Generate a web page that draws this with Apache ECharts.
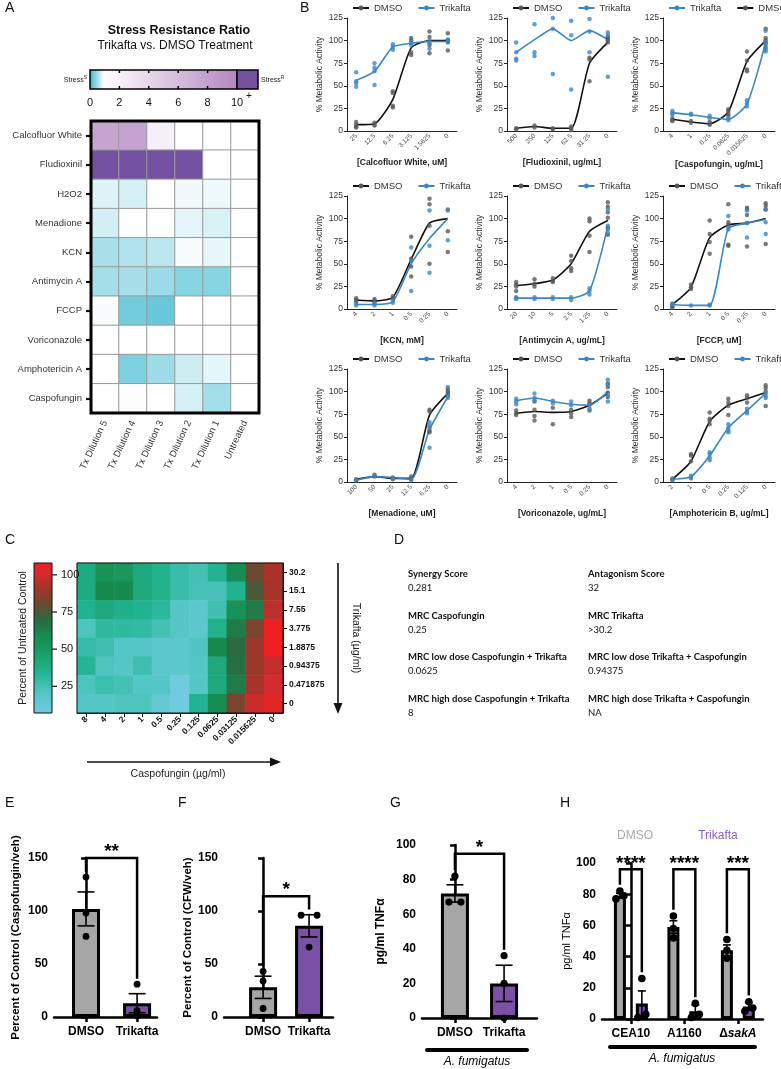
<!DOCTYPE html>
<html><head><meta charset="utf-8">
<script src="https://cdn.jsdelivr.net/npm/echarts@6/dist/echarts.min.js"></script>
<style>html,body{margin:0;padding:0;background:#fff}#c{width:781px;height:1069px}</style>
</head><body><div id="c"></div>
<script>
// ---------------- DATA ----------------
// Panel A
const stressRows = ['Calcofluor White','Fludioxinil','H2O2','Menadione','KCN','Antimycin A','FCCP','Voriconazole','Amphotericin A','Caspofungin'];
const stressCols = ['Tx Dilution 5','Tx Dilution 4','Tx Dilution 3','Tx Dilution 2','Tx Dilution 1','Untreated'];
const stressRatio = [
  [7.8, 7.9, 2.2, 1, 1, 1],
  [11, 11, 11, 11, 1.1, 1],
  [0.84, 0.80, 1, 0.93, 0.92, 1],
  [0.79, 1, 1, 0.87, 0.82, 1],
  [0.58, 0.62, 0.68, 0.96, 0.88, 1],
  [0.56, 0.57, 0.52, 0.42, 0.42, 1],
  [0.96, 0.32, 0.28, 1, 1, 1],
  [1, 1, 1, 1, 1, 1],
  [1.05, 0.37, 0.53, 0.76, 0.87, 1],
  [1.1, 1.15, 1, 0.8, 0.55, 1]
];
const stressTicks = [0, 2, 4, 6, 8, 10];

// Panel B
const cfwConc = ['25','12.5','6.25','3.125','1.5625','0'];
const cfwDmsoMean = [7, 8, 35, 92, 100, 100];
const cfwDmsoPts = [[10,7,5,4],[9,7,6],[44,42,28,26],[103,100,87,84],[110,104,95,86],[108,101,99,89]];
const cfwTrikMean = [56, 66, 93, 97, 99, 99];
const cfwTrikPts = [[65,55,53,49],[75,70,66,51],[96,93,90],[99,97,95],[100,97,91],[101,99,98]];

const fluConc = ['500','250','125','62.5','31.25','0'];
const fluDmsoMean = [3, 5, 3, 3, 75, 98];
const fluDmsoPts = [[3,2],[6,4],[3,2],[5,3,1],[81,79,55],[104,102,100,98]];
const fluTrikMean = [87, 101, 113, 100, 111, 101];
const fluTrikPts = [[98,87,80,78],[118,87,83],[125,113,63],[122,106,46],[124,110,87],[109,106,60]];

const caspConc = ['4','1','0.25','0.0625','0.015625','0'];
const caspDmsoMean = [13, 10, 8, 21, 77, 100];
const caspDmsoPts = [[14,12,11],[11,9],[10,8,7],[24,22,19,17],[88,78,68,66],[113,103,100,97,92]];
const caspTrikMean = [20, 18, 15, 13, 30, 98];
const caspTrikPts = [[22,20,18],[19,18],[17,14],[14,12],[34,31,27],[111,98,95,90,88]];

const kcnConc = ['4','2','1','0.5','0.25','0'];
const kcnDmsoMean = [10, 9, 13, 55, 95, 100];
const kcnDmsoPts = [[12,10,8],[11,9,7],[14,12],[80,56,47,36],[122,116,92,50],[110,86,63]];
const kcnTrikMean = [5, 5, 8, 50, 78, 100];
const kcnTrikPts = [[6,4],[6,4],[9,7],[68,53,20],[109,70,40],[109,76]];

const antConc = ['20','10','5','2.5','1.25','0'];
const antDmsoMean = [26, 28, 32, 50, 86, 98];
const antDmsoPts = [[30,27,25,20],[33,28,25],[34,31,30],[59,53,45,42],[100,97,81,63],[118,113,107,101,90,82]];
const antTrikMean = [12, 12, 12, 12, 20, 92];
const antTrikPts = [[13,12,11],[13,11],[13,11],[13,10],[23,20,16],[111,92,88,84]];

const fccpConc = ['4','2','1','0.5','0.25','0'];
const fccpDmsoMean = [5, 24, 79, 93, 95, 100];
const fccpDmsoPts = [[5,3,1],[27,24,22],[98,83,74,61],[116,96,93,71,70],[112,110,104,95,69],[117,114,110,72]];
const fccpTrikMean = [5, 4, 4, 89, 95, 99];
const fccpTrikPts = [[6,5],[4],[5,4],[103,90,88],[109,95,79],[110,96,83]];

const menConc = ['100','50','25','12.5','6.25','0'];
const menDmsoMean = [3, 6, 4, 4, 74, 98];
const menDmsoPts = [[3,2],[8,6],[5,3],[6,3],[80,78,57,55],[103,100,98,96]];
const menTrikMean = [2, 6, 5, 3, 58, 94];
const menTrikPts = [[2],[7],[4],[2],[66,62,60,38],[105,95,93]];

const vorConc = ['4','2','1','0.5','0.25','0'];
const vorDmsoMean = [76, 78, 77, 78, 85, 98];
const vorDmsoPts = [[79,76,74],[89,80,73,68],[82,64],[80,76,72],[90,87,79],[109,105,99,94]];
const vorTrikMean = [90, 93, 89, 86, 85, 100];
const vorTrikPts = [[92,89,86],[98,93,90],[90,87],[89,85],[85,81],[113,108,96,89]];

const ampConc = ['2','1','0.5','0.25','0.125','0'];
const ampDmsoMean = [3, 23, 67, 85, 92, 99];
const ampDmsoPts = [[4,2],[31,29,23],[77,70,68,64],[92,88,84,74],[96,93,88],[107,104,100,84]];
const ampTrikMean = [3, 6, 29, 60, 79, 98];
const ampTrikPts = [[3],[7,5,4],[33,31,27,24],[64,60,57,55],[81,78,76],[98,95,93]];

// Panel C
const checkCaspo = ['8','4','2','1','0.5','0.25','0.125','0.0625','0.03125','0.015625','0'];
const checkTrik = ['30.2','15.1','7.55','3.775','1.8875','0.94375','0.471875','0'];
const checkerboard = [
  [40, 55, 52, 42, 37, 28, 25, 35, 58, 80, 92],
  [40, 60, 60, 42, 37, 28, 24, 24, 36, 75, 91],
  [36, 42, 38, 36, 32, 20, 17, 26, 55, 65, 95],
  [22, 31, 31, 30, 25, 20, 17, 37, 65, 83, 108],
  [29, 27, 20, 20, 17, 17, 22, 60, 70, 89, 110],
  [34, 22, 20, 27, 17, 17, 20, 42, 68, 89, 97],
  [22, 27, 25, 20, 20, 8, 20, 42, 65, 91, 100],
  [20, 20, 22, 22, 13, 8, 35, 58, 83, 98, 104]
];
const checkTicks = [25, 50, 75, 100];

// Panel D
const dLeft = [['Synergy Score','0.281'],['MRC Caspofungin','0.25'],['MRC low dose Caspofungin + Trikafta','0.0625'],['MRC high dose Caspofungin + Trikafta','8']];
const dRight = [['Antagonism Score','32'],['MRC Trikafta','>30.2'],['MRC low dose Trikafta + Caspofungin','0.94375'],['MRC high dose Trikafta + Caspofungin','NA']];

// Panels E-H
const treatGroups = ['DMSO','Trikafta'];
const eMeans = [102, 13]; const eSem = [16, 9]; const ePts = [[132,98,76],[31,6,1]];
const fMeans = [28, 86]; const fSem = [10.5, 10.5]; const fPts = [[43,34,8],[96,96,66]];
const gMeans = [72, 20]; const gSem = [5, 10.5]; const gPts = [[82,67,67],[36,20,0]];
const hStrains = ['CEA10','A1160','ΔsakA'];
const hDmsoMean = [79, 59, 44]; const hDmsoSem = [1.5, 4, 3.5]; const hDmsoPts = [[82,79,77],[66,58,52],[51,44,39]];
const hTrikMean = [10, 5, 8]; const hTrikSem = [8, 4, 2.5]; const hTrikPts = [[26,3,1],[10,3,1],[11,7,5]];
const eStars = ['**']; const fStars = ['*']; const gStars = ['*']; const hStars = ['****','****','***'];

// ---------------- HELPERS ----------------
const F = "'Liberation Sans', Arial, sans-serif";
const grids=[], xAxes=[], yAxes=[], series=[], legends=[], visualMaps=[], graphics=[];
function addGrid(g){ grids.push(g); return grids.length-1; }
function hex2rgb(h){ h=h.replace('#',''); return [0,2,4].map(i=>parseInt(h.substr(i,2),16)); }
function rgb2hex(a){ return '#'+a.map(v=>Math.max(0,Math.min(255,Math.round(v))).toString(16).padStart(2,'0')).join(''); }
function sampleStops(stops, v){
  if (v<=stops[0][0]) return stops[0][1];
  for (let i=1;i<stops.length;i++){
    if (v<=stops[i][0]){
      const t=(v-stops[i-1][0])/(stops[i][0]-stops[i-1][0]);
      const a=hex2rgb(stops[i-1][1]), b=hex2rgb(stops[i][1]);
      return rgb2hex(a.map((x,k)=>x+(b[k]-x)*t));
    }
  }
  return stops[stops.length-1][1];
}
function evenColors(stops,min,max,n){ const o=[]; for(let i=0;i<n;i++) o.push(sampleStops(stops,min+(max-min)*i/(n-1))); return o; }
function txt(x,y,text,font,o){
  o=o||{};
  const st={text, font, fill:o.fill||'#000', align:o.align||'left', verticalAlign:o.va||'middle', textAlign:o.align||'left', textVerticalAlign:o.va||'middle'};
  if (o.rich) st.rich=o.rich;
  return {type:'text', x, y, rotation:o.rot||0, z:100, style:st};
}
function line(x1,y1,x2,y2,w,c){ return {type:'line', z:100, shape:{x1,y1,x2,y2}, style:{stroke:c||'#000', lineWidth:w||1}}; }
function jitter(pts,thr,sp){
  const idx=pts.map((v,i)=>i).sort((a,b)=>pts[a]-pts[b]);
  const off=new Array(pts.length).fill(0); let i=0;
  while(i<idx.length){ let j=i; while(j+1<idx.length && pts[idx[j+1]]-pts[idx[j]]<thr) j++;
    const n=j-i+1; for(let k=i;k<=j;k++) off[idx[k]]=(k-i-(n-1)/2)*sp; i=j+1; }
  return off;
}

// ---------------- PANEL A ----------------
const stopsA=[[0,'#2fb4cb'],[1,'#ffffff'],[10,'#b286c0'],[10.02,'#7450a0'],[11,'#7450a0']];
const aL=91, aT=121, aW=168, aH=292;
const gA=addGrid({left:aL, top:aT, width:aW, height:aH});
xAxes.push({gridIndex:gA, type:'category', data:stressCols, axisLine:{show:false}, axisTick:{show:false}, splitLine:{show:false},
  axisLabel:{interval:0, rotate:65, fontSize:9.5, color:'#333', fontFamily:F, margin:8}});
yAxes.push({gridIndex:gA, type:'category', data:stressRows, inverse:true, axisLine:{show:false},
  axisTick:{show:true, alignWithLabel:true, length:5, lineStyle:{color:'#111', width:2.2}},
  axisLabel:{fontSize:9.5, color:'#333', fontFamily:F, margin:9}});
const aData=[]; stressRatio.forEach((row,r)=>row.forEach((v,c)=>aData.push([c,r,v])));
series.push({type:'heatmap', xAxisIndex:xAxes.length-1, yAxisIndex:yAxes.length-1, data:aData,
  itemStyle:{borderColor:'#9a9a9a', borderWidth:1}});
visualMaps.push({type:'continuous', show:false, seriesIndex:series.length-1, dimension:2, min:0, max:11,
  inRange:{color:evenColors(stopsA,0,11,111)}});
graphics.push({type:'rect', z:101, shape:{x:aL,y:aT,width:aW,height:aH}, style:{fill:'none', stroke:'#000', lineWidth:3}});
// colorbar A
const cbX=90, cbY=70, cbW=147, cbH=19, cbP=21;
graphics.push({type:'rect', z:99, shape:{x:cbX,y:cbY,width:cbW,height:cbH}, style:{stroke:'#000', lineWidth:1.5,
  fill:new echarts.graphic.LinearGradient(0,0,1,0,[{offset:0,color:'#2fb4cb'},{offset:0.1,color:'#ffffff'},{offset:1,color:'#b286c0'}])}});
graphics.push({type:'rect', z:99, shape:{x:cbX+cbW,y:cbY,width:cbP,height:cbH}, style:{fill:'#7450a0', stroke:'#000', lineWidth:1.5}});
stressTicks.forEach(v=>{
  const x=cbX+v*cbW/10;
  if (v>0 && v<10){ graphics.push(line(x,cbY,x,cbY+3,1.5)); graphics.push(line(x,cbY+cbH-3,x,cbY+cbH,1.5)); }
  graphics.push(txt(x,103,String(v),'11px '+F,{align:'center', fill:'#111'}));
});
graphics.push(txt(cbX+cbW+12,96,'+','10px '+F,{align:'center', fill:'#111'}));
graphics.push(txt(cbX-3,cbY+10,'Stress{s|S}','7px '+F,{align:'right', fill:'#222', rich:{s:{fontSize:5, padding:[0,0,5,0], fill:'#222', fontFamily:F}}}));
graphics.push(txt(cbX+cbW+cbP+3,cbY+10,'Stress{s|R}','7px '+F,{align:'left', fill:'#222', rich:{s:{fontSize:5, padding:[0,0,5,0], fill:'#222', fontFamily:F}}}));
graphics.push(txt(179,31,'Stress Resistance Ratio','bold 12.5px '+F,{align:'center', fill:'#111'}));
graphics.push(txt(175,46,'Trikafta vs. DMSO Treatment','12px '+F,{align:'center', fill:'#111'}));

// ---------------- PANEL B ----------------
const bSpecs=[
  {t:'[Calcofluor White, uM]', c:cfwConc, dm:cfwDmsoMean, dp:cfwDmsoPts, tm:cfwTrikMean, tp:cfwTrikPts, order:['DMSO','Trikafta']},
  {t:'[Fludioxinil, ug/mL]', c:fluConc, dm:fluDmsoMean, dp:fluDmsoPts, tm:fluTrikMean, tp:fluTrikPts, order:['DMSO','Trikafta']},
  {t:'[Caspofungin, ug/mL]', c:caspConc, dm:caspDmsoMean, dp:caspDmsoPts, tm:caspTrikMean, tp:caspTrikPts, order:['Trikafta','DMSO']},
  {t:'[KCN, mM]', c:kcnConc, dm:kcnDmsoMean, dp:kcnDmsoPts, tm:kcnTrikMean, tp:kcnTrikPts, order:['DMSO','Trikafta']},
  {t:'[Antimycin A, ug/mL]', c:antConc, dm:antDmsoMean, dp:antDmsoPts, tm:antTrikMean, tp:antTrikPts, order:['DMSO','Trikafta']},
  {t:'[FCCP, uM]', c:fccpConc, dm:fccpDmsoMean, dp:fccpDmsoPts, tm:fccpTrikMean, tp:fccpTrikPts, order:['DMSO','Trikafta']},
  {t:'[Menadione, uM]', c:menConc, dm:menDmsoMean, dp:menDmsoPts, tm:menTrikMean, tp:menTrikPts, order:['DMSO','Trikafta']},
  {t:'[Voriconazole, ug/mL]', c:vorConc, dm:vorDmsoMean, dp:vorDmsoPts, tm:vorTrikMean, tp:vorTrikPts, order:['DMSO','Trikafta']},
  {t:'[Amphotericin B, ug/mL]', c:ampConc, dm:ampDmsoMean, dp:ampDmsoPts, tm:ampTrikMean, tp:ampTrikPts, order:['DMSO','Trikafta']}
];
const bL=[347,507,663], bT=[18,196,369], bW=[110,110,112], bH=113;
const BLUE='#3b86c6', DGREY='#595959';
function flatPts(p){ const o=[]; p.forEach((arr,i)=>arr.forEach(v=>o.push([i,v]))); return o; }
bSpecs.forEach((s,i)=>{
  const col=i%3, row=Math.floor(i/3), left=bL[col], top=bT[row];
  const g=addGrid({left, top, width:bW[col], height:bH});
  const xi=xAxes.length, yi=yAxes.length;
  xAxes.push({gridIndex:g, type:'category', data:s.c, boundaryGap:true,
    axisLine:{lineStyle:{color:'#222', width:1}}, axisTick:{alignWithLabel:true, length:3, lineStyle:{color:'#222'}},
    axisLabel:{interval:0, rotate:45, fontSize:6.5, color:'#444', fontFamily:F, margin:4},
    name:s.t, nameLocation:'middle', nameGap:27, nameTextStyle:{fontFamily:F, fontWeight:'bold', fontSize:8.5, color:'#222'}});
  yAxes.push({gridIndex:g, type:'value', min:0, max:125, interval:25,
    axisLine:{show:true, lineStyle:{color:'#222', width:1}}, axisTick:{show:true, length:3, lineStyle:{color:'#222'}},
    splitLine:{show:false}, axisLabel:{fontSize:8.5, color:'#333', fontFamily:F, margin:4},
    name:'% Metabolic Activity', nameLocation:'middle', nameGap:23, nameTextStyle:{fontFamily:F, fontSize:8.5, color:'#333'}});
  series.push({type:'line', name:'DMSO', xAxisIndex:xi, yAxisIndex:yi, data:s.dm, smooth:0.2, symbol:'none',
    lineStyle:{color:'#111', width:1.6}, itemStyle:{color:'#111'}, z:3});
  series.push({type:'line', name:'Trikafta', xAxisIndex:xi, yAxisIndex:yi, data:s.tm, smooth:0.2, symbol:'none',
    lineStyle:{color:BLUE, width:1.6}, itemStyle:{color:BLUE}, z:3});
  series.push({type:'scatter', name:'DMSO replicate', xAxisIndex:xi, yAxisIndex:yi, data:flatPts(s.dp), symbolSize:4.5,
    itemStyle:{color:DGREY}, z:4});
  series.push({type:'scatter', name:'Trikafta replicate', xAxisIndex:xi, yAxisIndex:yi, data:flatPts(s.tp), symbolSize:4.5,
    itemStyle:{color:BLUE}, z:4});
  legends.push({data:s.order.map(n=>({name:n, itemStyle:{color:n==='DMSO'?'#555':BLUE}})), left:left+5, top:top-15,
    width:220, padding:0, orient:'horizontal',
    itemWidth:16, itemHeight:6, itemGap:15, selectedMode:false, textStyle:{fontSize:9.5, fontFamily:F, color:'#333'}});
});

// ---------------- PANEL C ----------------
const stopsC=[[7,'#72cbe0'],[20,'#55c6c6'],[35,'#22b492'],[50,'#1a9a60'],[60,'#178a50'],[70,'#2a6a3f'],[80,'#6a4a30'],[90,'#a0352a'],[100,'#d52a2e'],[108,'#f01f22']];
const cL=77, cT=563, cW=206, cH=150;
const gC=addGrid({left:cL, top:cT, width:cW, height:cH});
xAxes.push({gridIndex:gC, type:'category', data:checkCaspo, axisLine:{lineStyle:{color:'#111', width:1}},
  axisTick:{show:true, alignWithLabel:true, length:4, lineStyle:{color:'#111'}},
  axisLabel:{interval:0, rotate:45, fontSize:8.5, fontWeight:'bold', color:'#111', fontFamily:F, margin:5}});
yAxes.push({gridIndex:gC, type:'category', data:checkTrik, inverse:true, position:'right',
  axisLine:{lineStyle:{color:'#111', width:1}}, axisTick:{show:true, alignWithLabel:true, length:4, lineStyle:{color:'#111'}},
  axisLabel:{fontSize:8.5, fontWeight:'bold', color:'#111', fontFamily:F, margin:6}});
const cData=[]; checkerboard.forEach((row,r)=>row.forEach((v,c)=>cData.push([c,r,v])));
series.push({type:'heatmap', xAxisIndex:xAxes.length-1, yAxisIndex:yAxes.length-1, data:cData, itemStyle:{borderWidth:0}});
visualMaps.push({type:'continuous', show:false, seriesIndex:series.length-1, dimension:2, min:7, max:108,
  inRange:{color:evenColors(stopsC,7,108,102)}});
graphics.push({type:'rect', z:101, shape:{x:cL,y:cT,width:cW,height:cH}, style:{fill:'none', stroke:'#111', lineWidth:1}});
// colorbar C
const ccX=34, ccW=18, ccTop=563, ccBot=713, ccMin=7, ccMax=108;
const gradC=stopsC.map(s=>({offset:(s[0]-ccMin)/(ccMax-ccMin), color:s[1]}));
graphics.push({type:'rect', z:99, shape:{x:ccX,y:ccTop,width:ccW,height:ccBot-ccTop},
  style:{stroke:'#111', lineWidth:1, fill:new echarts.graphic.LinearGradient(0,1,0,0,gradC)}});
checkTicks.forEach(v=>{
  const y=ccBot-(v-ccMin)/(ccMax-ccMin)*(ccBot-ccTop);
  graphics.push(line(ccX+ccW,y,ccX+ccW+5,y,1.2,'#111'));
  graphics.push(txt(ccX+ccW+9,y,String(v),'11px '+F,{fill:'#111'}));
});
graphics.push(txt(23,638,'Percent of Untreated Control','10.5px '+F,{align:'center', rot:Math.PI/2, fill:'#222'}));
graphics.push(line(338,cT,338,705,1.6,'#111'));
graphics.push({type:'polygon', z:100, shape:{points:[[338,714],[333.5,703],[342.5,703]]}, style:{fill:'#111'}});
graphics.push(txt(356,638,'Trikafta (µg/ml)','10.5px '+F,{align:'center', rot:-Math.PI/2, fill:'#222'}));
graphics.push(line(87,762,272,762,1.6,'#111'));
graphics.push({type:'polygon', z:100, shape:{points:[[281,762],[270,757.5],[270,766.5]]}, style:{fill:'#111'}});
graphics.push(txt(178,774,'Caspofungin (µg/ml)','10.5px '+F,{align:'center', fill:'#222'}));

// ---------------- PANEL D ----------------
const DF="'Lato', 'Open Sans', sans-serif";
const dRowsY=[574,616,657,699];
[[dLeft,408],[dRight,588]].forEach(([arr,x])=>{
  arr.forEach((pair,i)=>{
    graphics.push(txt(x,dRowsY[i],pair[0],'bold 9.5px '+DF,{fill:'#111'}));
    graphics.push(txt(x,dRowsY[i]+13.5,pair[1],'9.5px '+DF,{fill:'#111'}));
  });
});

// ---------------- PANELS E-H ----------------
const GREY='#a6a6a6', PURP='#7a51a6';
function barPanel(p){
  const g=addGrid({left:p.ax, top:p.top, width:p.aEnd-p.ax, height:p.bot-p.top});
  const xi=xAxes.length, yi=yAxes.length;
  const fmt=(v)=>{ const k=p.labelPos.findIndex(q=>Math.abs(q-v)<1e-6); return k<0?'':p.labels[k]; };
  xAxes.push({gridIndex:g, type:'value', min:p.xmin, max:p.xmax, splitLine:{show:false},
    axisLine:{lineStyle:{color:'#000', width:2.5}},
    axisTick:{show:true, customValues:p.labelPos, length:5, lineStyle:{color:'#000', width:2.5}},
    axisLabel:{customValues:p.labelPos, formatter:p.labelFmt||fmt, fontWeight:'bold', fontSize:12, color:'#000', fontFamily:F, margin:9, rich:p.rich}});
  yAxes.push({gridIndex:g, type:'value', min:0, max:p.ymax, interval:p.yint, splitLine:{show:false},
    axisLine:{show:true, lineStyle:{color:'#000', width:2.5}}, axisTick:{show:true, length:5, lineStyle:{color:'#000', width:2.5}},
    axisLabel:{fontWeight:'bold', fontSize:12, color:'#000', fontFamily:F, margin:6},
    name:p.yName, nameLocation:'middle', nameGap:p.yGap,
    nameTextStyle:{fontWeight:p.yBold===false?'normal':'bold', fontSize:p.yFs||11.5, color:'#000', fontFamily:F}});
  series.push({type:'bar', xAxisIndex:xi, yAxisIndex:yi, barWidth:p.bw, z:2,
    data:p.bars.map(b=>({value:[b.x,b.mean], itemStyle:{color:b.color}})),
    itemStyle:{borderColor:'#000', borderWidth:3}});
  const cap=p.cap;
  series.push({type:'custom', xAxisIndex:xi, yAxisIndex:yi, z:3,
    data:p.bars.map(b=>[b.x,b.mean,b.sem]),
    renderItem:(params,api)=>{
      const x=api.value(0), m=api.value(1), s=api.value(2);
      const lo=api.coord([x,m-s]), hi=api.coord([x,m+s]);
      return {type:'group', children:[
        {type:'line', shape:{x1:lo[0],y1:lo[1],x2:hi[0],y2:hi[1]}, style:{stroke:'#000', lineWidth:1.6}},
        {type:'line', shape:{x1:hi[0]-cap/2,y1:hi[1],x2:hi[0]+cap/2,y2:hi[1]}, style:{stroke:'#000', lineWidth:1.6}},
        {type:'line', shape:{x1:lo[0]-cap/2,y1:lo[1],x2:lo[0]+cap/2,y2:lo[1]}, style:{stroke:'#000', lineWidth:1.6}}
      ]};
    }});
  const dots=[];
  p.bars.forEach(b=>{ const off=jitter(b.pts,p.thr,p.sp); b.pts.forEach((v,k)=>dots.push([b.x,v,off[k]])); });
  const r=p.r;
  series.push({type:'custom', xAxisIndex:xi, yAxisIndex:yi, z:4, data:dots,
    renderItem:(params,api)=>{ const c=api.coord([api.value(0),api.value(1)]);
      return {type:'circle', shape:{cx:c[0]+api.value(2), cy:c[1], r}, style:{fill:'#000'}}; }});
  const br=p.brackets.map(b=>{
    const b1=p.bars[b.i1], b2=p.bars[b.i2];
    const top1=Math.max(Math.max(...b1.pts), b1.mean+b1.sem)+p.legGap;
    const top2=Math.max(Math.max(...b2.pts), b2.mean+b2.sem)+p.legGap;
    return [b1.x,b2.x,b.y,top1,top2,b.k];
  });
  series.push({type:'custom', xAxisIndex:xi, yAxisIndex:yi, z:5, data:br,
    renderItem:(params,api)=>{
      const x1=api.value(0), x2=api.value(1), y=api.value(2), l1=api.value(3), l2=api.value(4), k=api.value(5);
      const a=api.coord([x1,l1]), b=api.coord([x1,y]), c=api.coord([x2,y]), d=api.coord([x2,l2]);
      return {type:'group', children:[
        {type:'polyline', shape:{points:[a,b,c,d]}, style:{stroke:'#000', lineWidth:2.5, fill:'none'}},
        {type:'text', style:{text:p.stars[k], x:(b[0]+c[0])/2, y:b[1]-p.starOff, align:'center', verticalAlign:'middle',
          textAlign:'center', textVerticalAlign:'middle', font:'bold 19px '+F, fill:'#000'}}
      ]};
    }});
}
// E
barPanel({ax:54, aEnd:157, top:858, bot:1017, xmin:-0.627, xmax:1.39, ymax:150, yint:50,
  labels:treatGroups, labelPos:[0,1],
  bars:[{x:0,mean:eMeans[0],sem:eSem[0],pts:ePts[0],color:GREY},{x:1,mean:eMeans[1],sem:eSem[1],pts:ePts[1],color:PURP}],
  brackets:[{i1:0,i2:1,y:150,k:0}], stars:eStars, starOff:6.5, legGap:5,
  yName:'Percent of Control (Caspofungin/veh)', yGap:32, bw:28, cap:17, r:3.4, thr:4, sp:12});
// F
barPanel({ax:224, aEnd:333, top:858, bot:1017, xmin:-0.85, xmax:1.52, ymax:150, yint:50,
  labels:treatGroups, labelPos:[0,1],
  bars:[{x:0,mean:fMeans[0],sem:fSem[0],pts:fPts[0],color:GREY},{x:1,mean:fMeans[1],sem:fSem[1],pts:fPts[1],color:PURP}],
  brackets:[{i1:0,i2:1,y:114,k:0}], stars:fStars, starOff:6.5, legGap:5,
  yName:'Percent of Control (CFW/veh)', yGap:22, bw:28, cap:17, r:3.4, thr:4, sp:16});
// G
barPanel({ax:422, aEnd:537, top:845, bot:1018, xmin:-0.67, xmax:1.67, ymax:100, yint:20,
  labels:treatGroups, labelPos:[0,1],
  bars:[{x:0,mean:gMeans[0],sem:gSem[0],pts:gPts[0],color:GREY},{x:1,mean:gMeans[1],sem:gSem[1],pts:gPts[1],color:PURP}],
  brackets:[{i1:0,i2:1,y:95,k:0}], stars:gStars, starOff:5.5, legGap:3.5,
  yName:'pg/ml TNFα', yGap:35, bw:28, cap:17, r:3.6, thr:3, sp:12, yFs:12});
// H
const hBars=[];
hStrains.forEach((s,g)=>{
  hBars.push({x:g-0.205, mean:hDmsoMean[g], sem:hDmsoSem[g], pts:hDmsoPts[g], color:GREY});
  hBars.push({x:g+0.205, mean:hTrikMean[g], sem:hTrikSem[g], pts:hTrikPts[g], color:PURP});
});
barPanel({ax:602, aEnd:763, top:863, bot:1019, xmin:-0.54, xmax:2.47, ymax:100, yint:20,
  labels:hStrains, labelPos:[0,1,2],
  labelFmt:(v)=>{ const k=Math.round(v); return k===2?'{b|Δ}{i|sakA}':'{b|'+hStrains[k]+'}'; },
  rich:{b:{fontWeight:'bold', fontSize:12, fontFamily:F, color:'#000'}, i:{fontWeight:'bold', fontStyle:'italic', fontSize:12, fontFamily:F, color:'#000'}},
  bars:hBars, brackets:[{i1:0,i2:1,y:96,k:0},{i1:2,i2:3,y:96,k:1},{i1:4,i2:5,y:96,k:2}], stars:hStars, starOff:5, legGap:4,
  yName:'pg/ml TNFα', yGap:29, yBold:false, yFs:11, bw:12, cap:8, r:3.8, thr:3, sp:8});
graphics.push(txt(635,836,'DMSO','12px '+F,{align:'center', fill:'#a9a9a9'}));
graphics.push(txt(718,836,'Trikafta','12px '+F,{align:'center', fill:'#8a5fc0'}));
graphics.push({type:'line', z:100, shape:{x1:427,y1:1050,x2:527,y2:1050}, style:{stroke:'#000', lineWidth:4, lineCap:'round'}});
graphics.push(txt(477,1062,'A. fumigatus','italic 12px '+F,{align:'center'}));
graphics.push({type:'line', z:100, shape:{x1:610,y1:1047,x2:755,y2:1047}, style:{stroke:'#000', lineWidth:4, lineCap:'round'}});
graphics.push(txt(682,1059,'A. fumigatus','italic 12px '+F,{align:'center'}));

// Panel letters
[['A',5,8],['B',300,8],['C',5,540],['D',394,540],['E',5,803],['F',178,803],['G',390,803],['H',560,803]].forEach(([l,x,y])=>{
  graphics.push(txt(x,y,l,'14px '+F,{fill:'#111'}));
});

const chart=echarts.init(document.getElementById('c'));
chart.setOption({animation:false, backgroundColor:'#fff', grid:grids, xAxis:xAxes, yAxis:yAxes, series, legend:legends,
  visualMap:visualMaps, graphic:{elements:graphics}});
</script></body></html>
